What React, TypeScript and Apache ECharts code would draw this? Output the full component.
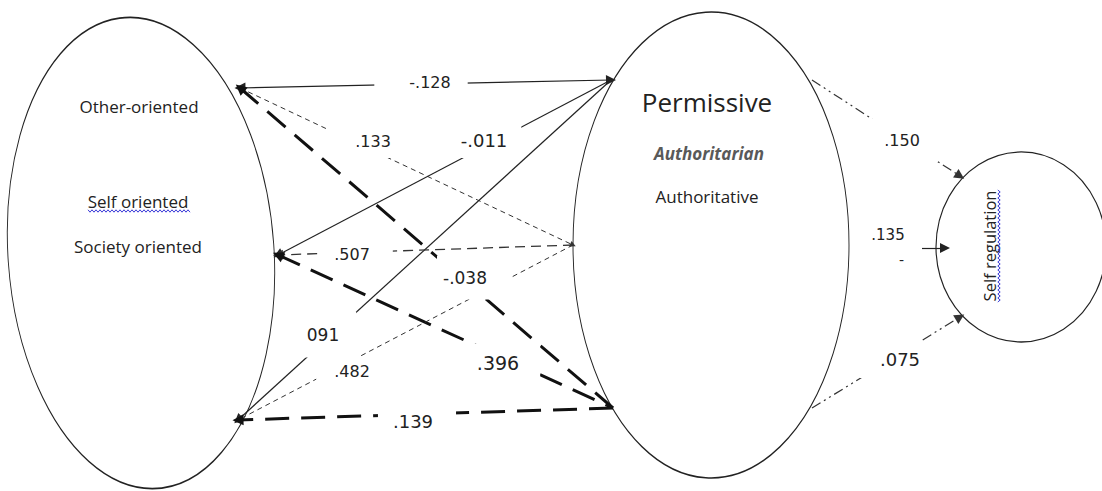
import React, { useEffect, useRef } from "react";
import * as echarts from "echarts";

// ---------------- Data ----------------
const leftItems = ["Other-oriented", "Self oriented", "Society oriented"];
const middleItems = ["Permissive", "Authoritarian", "Authoritative"];
const outcomeItems = ["Self regulation"];

// path coefficients and their endpoints (anchor ids)
const pathCoefficients = [
  "-.128", ".133", "-.038", "-.011", "091", ".507", ".396", ".482", ".139", ".150", ".135", ".075",
];
const pathFrom = ["M1", "L1", "L1", "M1", "M1", "M2", "L2", "M2", "M3", "R1", "R2", "R3"];
const pathTo = ["L1", "M2", "M3", "L2", "L3", "L2", "M3", "L3", "L3", "O1", "O2", "O3"];

// ---------------- Layout / styles ----------------
const W = 1102;
const H = 491;

const ellipses = [
  { cx: 141, cy: 253, rx: 133, ry: 236, rot: 4 },
  { cx: 711, cy: 245, rx: 138, ry: 233, rot: 0 },
  { cx: 1021, cy: 247, rx: 85, ry: 95, rot: 0 },
];

const anchorPos: Record<string, [number, number]> = {
  L1: [240, 88],
  L2: [278, 255],
  L3: [238, 420],
  M1: [611, 80],
  M2: [573, 245],
  M3: [613, 408],
  R1: [812, 80],
  R2: [922, 248],
  R3: [812, 408],
  O1: [960, 176],
  O2: [945, 248],
  O3: [960, 317],
};

const lineKinds: Record<string, any> = {
  solid: { color: "#222", width: 1.2, dash: "solid" },
  thin: { color: "#333", width: 1, dash: [5, 4] },
  medium: { color: "#333", width: 1.3, dash: [10, 6] },
  thick: { color: "#111", width: 3, dash: [24, 12] },
  dashdot: { color: "#333", width: 1.2, dash: [10, 4, 2, 4, 2, 4] },
};
const edgeKind = ["solid", "thin", "thick", "solid", "solid", "medium", "thick", "thin", "thick", "dashdot", "solid", "dashdot"];
const edgeArrow: [number, number][] = [
  [10, 11], [0, 6], [11, 0], [0, 10], [0, 10], [0, 10], [11, 0], [0, 8], [0, 11], [0, 10], [0, 10], [0, 10],
];

// text centers of coefficient labels, font sizes and padding [t, r, b, l]
const labelPos: [number, number][] = [
  [430, 82], [373, 139], [465, 275], [484, 139], [323, 333], [352, 254],
  [498, 361], [352, 377], [413, 421], [902, 139], [888, 235], [900, 361],
];
const labelSize = [16, 16, 17, 18, 17, 16, 19, 16, 18, 16, 15, 18];
const labelPad: number[][] = [
  [2, 17, 2, 35], [6, 3, 11, 28], [11, 23, 16, 6], [7, 14, 10, 1], [13, 17, 16, 3], [1, 23, 1, 13],
  [8, 21, 12, 15], [13, 2, 1, 18], [1, 23, 1, 15], [12, 18, 15, 13], [0, 0, 0, 0], [12, 0, 8, 20],
];

const nodeTexts = [...leftItems, ...middleItems, ...outcomeItems];
const nodeTextPos: [number, number][] = [
  [139, 106], [138, 201], [138, 246], [707, 102], [709, 153], [707, 196], [989, 246],
];
const nodeTextStyle: any[] = [
  { fontSize: 17 },
  { fontSize: 17 },
  { fontSize: 17 },
  { fontSize: 26 },
  { fontSize: 17, fontWeight: "bold", fontStyle: "italic", color: "#595959" },
  { fontSize: 17 },
  { fontSize: 16.5, rotate: 90 },
];

function wave(x0: number, y0: number, len: number, vertical: boolean) {
  const pts: number[][] = [];
  let k = 0;
  for (let t = 0; t <= len; t += 2) {
    const off = k % 2 === 0 ? -1.2 : 1.2;
    pts.push(vertical ? [x0 + off, y0 + t] : [x0 + t, y0 + off]);
    k++;
  }
  return pts;
}

export default function App() {
  const ref = useRef<HTMLDivElement>(null);
  useEffect(() => {
    const chart = echarts.init(ref.current!, null, { renderer: "svg" });

    const edgeSeries = pathCoefficients.map((_, i) => {
      const st = lineKinds[edgeKind[i]];
      const [a, b] = edgeArrow[i];
      return {
        type: "lines",
        coordinateSystem: "cartesian2d",
        z: 3,
        silent: true,
        symbol: [a ? "triangle" : "none", b ? "triangle" : "none"],
        symbolSize: [a || 1, b || 1],
        lineStyle: { color: st.color, width: st.width, type: st.dash, opacity: 1 },
        data: [{ coords: [anchorPos[pathFrom[i]], anchorPos[pathTo[i]]] }],
      };
    });

    const option: any = {
      animation: false,
      backgroundColor: "#fff",
      grid: { left: 0, right: 0, top: 0, bottom: 0 },
      xAxis: { type: "value", min: 0, max: W, show: false },
      yAxis: { type: "value", min: 0, max: H, inverse: true, show: false },
      series: [
        {
          type: "scatter",
          z: 1,
          silent: true,
          symbol: "circle",
          data: ellipses.map((e) => ({
            value: [e.cx, e.cy],
            symbolSize: [2 * e.rx, 2 * e.ry],
            symbolRotate: e.rot,
          })),
          itemStyle: { color: "#fff", borderColor: "#222", borderWidth: 1.2, opacity: 1 },
        },
        ...edgeSeries,
        {
          type: "scatter",
          z: 5,
          silent: true,
          symbolSize: 1,
          itemStyle: { color: "rgba(0,0,0,0)", opacity: 1 },
          label: {
            show: true,
            position: "inside",
            color: "#222",
            fontFamily: "DejaVu Sans",
            backgroundColor: "#fff",
            opacity: 1,
          },
          data: pathCoefficients.map((c, i) => {
            const [pt, pr, pb, pl] = labelPad[i];
            const [tx, ty] = labelPos[i];
            return {
              value: [tx - (pl - pr) / 2, ty - (pt - pb) / 2],
              label: { show: true, formatter: c, fontSize: labelSize[i], padding: labelPad[i] },
            };
          }),
        },
        {
          type: "scatter",
          z: 6,
          silent: true,
          symbolSize: 1,
          itemStyle: { color: "rgba(0,0,0,0)", opacity: 1 },
          label: { show: true, position: "inside", color: "#222", fontFamily: "Open Sans", opacity: 1 },
          data: nodeTexts.map((t, i) => ({
            value: nodeTextPos[i],
            label: { show: true, formatter: t, ...nodeTextStyle[i] },
          })),
        },
      ],
      graphic: [
        {
          type: "polyline",
          z: 100,
          shape: { points: wave(88, 211, 102, false) },
          style: { stroke: "#3a3ad8", lineWidth: 1, fill: null },
        },
        {
          type: "polyline",
          z: 100,
          shape: { points: wave(999, 190, 112, true) },
          style: { stroke: "#3a3ad8", lineWidth: 1, fill: null },
        },
        {
          type: "text",
          z: 100,
          x: 899,
          y: 253,
          style: { text: "-", fill: "#222", font: "14px DejaVu Sans" },
        },
      ],
    };
    chart.setOption(option);
    return () => chart.dispose();
  }, []);
  return (
    <div
      ref={ref}
      style={{ position: "fixed", left: 0, top: 0, width: W, height: H, background: "#fff" }}
    />
  );
}
